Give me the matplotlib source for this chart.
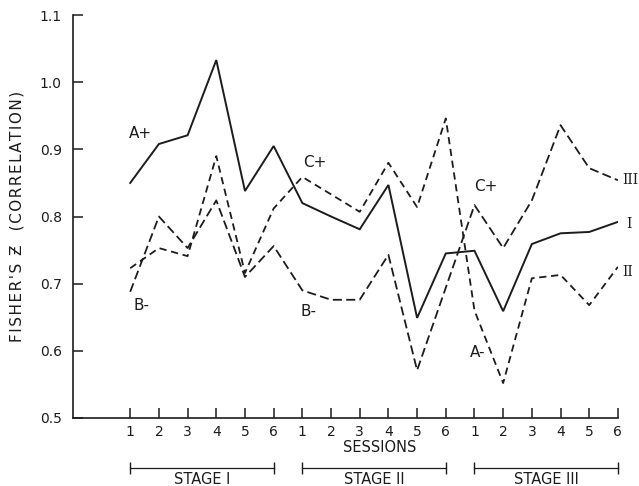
"""Fisher's z (correlation) across sessions of three stages."""

import matplotlib

matplotlib.use("Agg")

import matplotlib.pyplot as plt
import matplotlib.transforms as mtransforms

stages = ["STAGE I", "STAGE II", "STAGE III"]
sessions = ["1", "2", "3", "4", "5", "6"]

# one value per session, stages I, II, III in order
series_1 = [0.850, 0.908, 0.921, 1.033, 0.838, 0.905,
            0.820, 0.800, 0.781, 0.847, 0.649, 0.745,
            0.749, 0.659, 0.759, 0.775, 0.777, 0.792]
series_2 = [0.723, 0.753, 0.741, 0.890, 0.716, 0.812,
            0.859, 0.833, 0.807, 0.880, 0.814, 0.946,
            0.660, 0.552, 0.708, 0.713, 0.668, 0.725]
series_3 = [0.688, 0.800, 0.753, 0.824, 0.710, 0.756,
            0.690, 0.676, 0.676, 0.743, 0.571, 0.694,
            0.817, 0.753, 0.824, 0.936, 0.872, 0.854]

# condition labels: (text, x, y)
conditions = [("A+", 0.35, 0.924), ("B-", 0.40, 0.668),
              ("C+", 6.45, 0.881), ("B-", 6.20, 0.658),
              ("C+", 12.4, 0.844), ("A-", 12.1, 0.597)]

ink = "#1c1c1c"
plt.rcParams["font.family"] = ["DejaVu Sans"]

fig = plt.figure(figsize=(6.39, 4.86), dpi=100)
ax = fig.add_axes([0.114, 0.140, 0.853, 0.829])

n = len(stages) * len(sessions)
x = list(range(n))

ax.plot(x, series_1, color=ink, lw=1.4, solid_joinstyle="miter")
ax.plot(x, series_2, color=ink, lw=1.3, linestyle=(0, (4, 2.6)))
ax.plot(x, series_3, color=ink, lw=1.3, linestyle=(0, (5, 2.4)))

for text, tx, ty in conditions:
    ax.text(tx, ty, text, fontsize=11, color=ink, ha="center", va="center")

ax.text(17.15, series_3[-1], "III", family="DejaVu Serif", fontsize=10,
        color=ink, ha="left", va="center")
ax.text(17.3, series_1[-1] - 0.003, "I", family="DejaVu Serif", fontsize=10,
        color=ink, ha="left", va="center")
ax.text(17.15, series_2[-1] - 0.008, "II", family="DejaVu Serif", fontsize=10,
        color=ink, ha="left", va="center")

ax.set_xlim(-2, n - 1)
ax.set_ylim(0.5, 1.1)
ax.set_xticks(x)
ax.set_xticklabels(sessions * len(stages))
ax.set_yticks([0.5, 0.6, 0.7, 0.8, 0.9, 1.0, 1.1])
ax.set_yticklabels(["0.5", "0.6", "0.7", "0.8", "0.9", "1.0", "1.1"])
ax.tick_params(direction="in", length=7, width=1.1, color=ink,
               labelsize=10, labelcolor=ink)
ax.tick_params(axis="x", pad=5)
ax.tick_params(axis="y", pad=8)
for side in ["top", "right"]:
    ax.spines[side].set_visible(False)
for side in ["left", "bottom"]:
    ax.spines[side].set_color(ink)
    ax.spines[side].set_linewidth(1.2)

# the lettering on the original is widely spaced
ylabel = "\u200a".join("FISHER'S Ƶ  (CORRELATION)")
ax.set_ylabel(ylabel, fontsize=11, color=ink)
ax.yaxis.set_label_coords(-0.088, 0.5)

trans = mtransforms.blended_transform_factory(ax.transData, ax.transAxes)
ax.text(8.68, -0.074, "SESSIONS", transform=trans, fontsize=10.5,
        color=ink, ha="center", va="center")
for i, name in enumerate(stages):
    x0 = i * len(sessions)
    x1 = x0 + len(sessions) - 1
    ax.plot([x0, x1], [-0.124, -0.124], transform=trans, clip_on=False,
            color=ink, lw=0.9, marker="|", markersize=8, markeredgewidth=1)
    ax.text((x0 + x1) / 2, -0.152, name, transform=trans, fontsize=10.5,
            color=ink, ha="center", va="center")

fig.savefig("out.png", dpi=100)
plt.close(fig)
